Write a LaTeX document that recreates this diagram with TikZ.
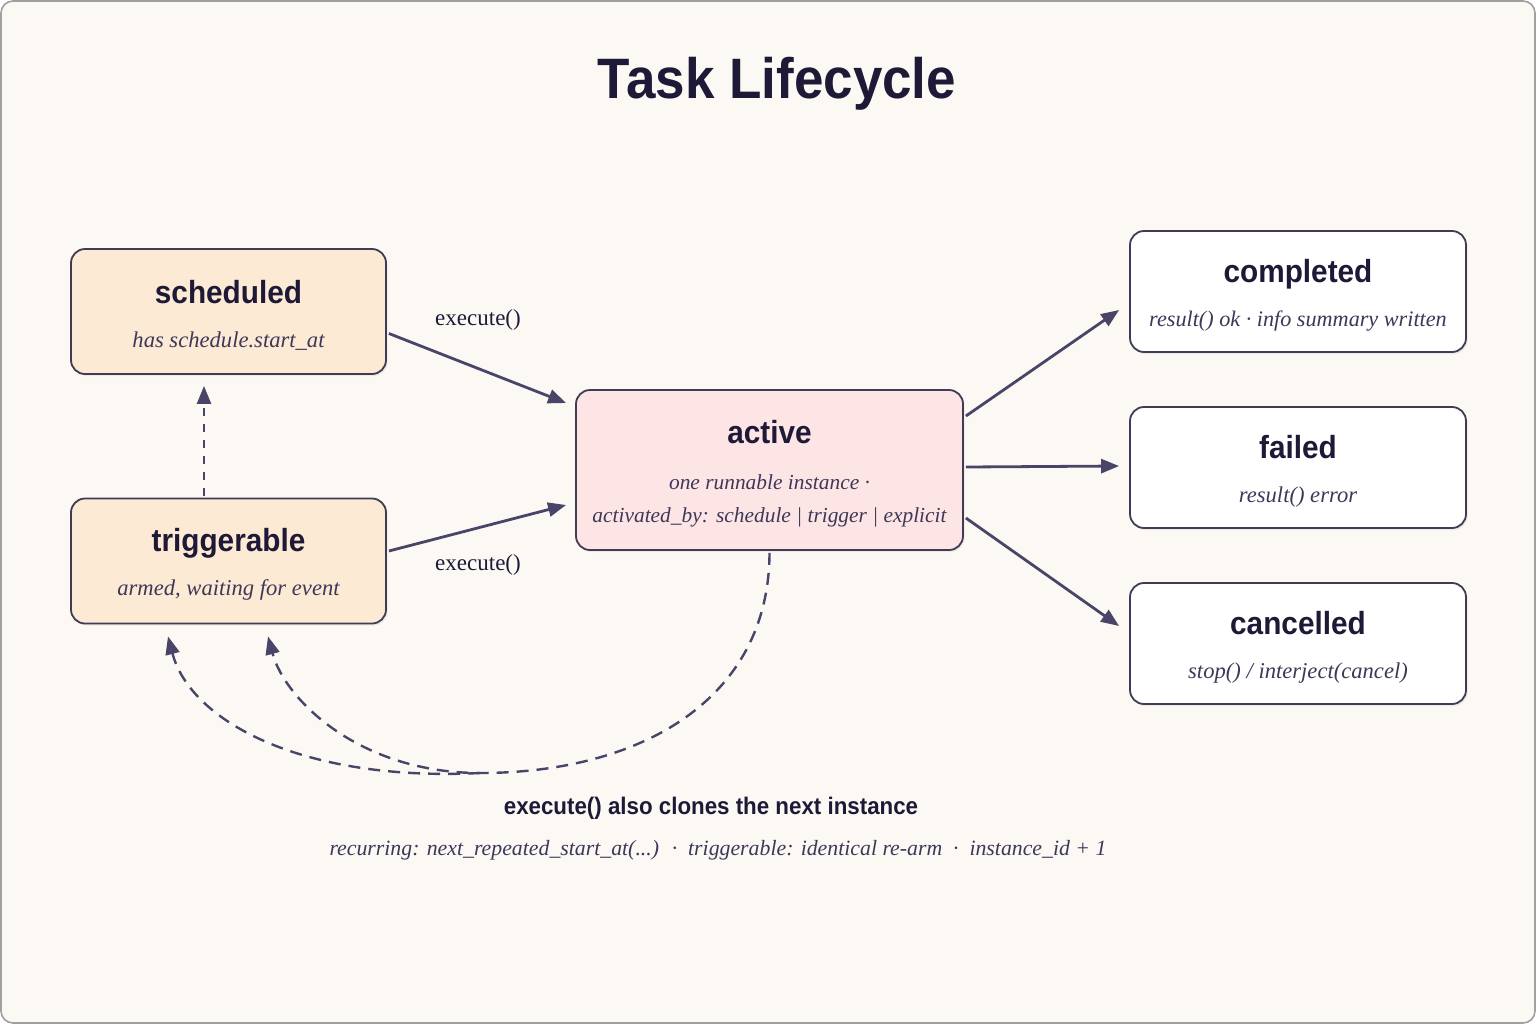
\documentclass[tikz,border=0pt]{standalone}
\usepackage{fontspec}
\setmainfont{Liberation Serif}
\newfontfamily\headfont[FakeStretch=0.93]{Liberation Sans}
\usetikzlibrary{arrows.meta,calc,shadows,positioning}

\definecolor{ink}{HTML}{1E1936}
\definecolor{subink}{HTML}{3E3858}
\definecolor{edge}{HTML}{4B4469}
\definecolor{paper}{HTML}{FCF9F4}
\definecolor{peach}{HTML}{FDEAD5}
\definecolor{blush}{HTML}{FDE5E5}
\definecolor{frame}{HTML}{A0A0A0}

\newcommand\stname[1]{{\headfont\bfseries\fontsize{16}{18}\selectfont\rule{0pt}{15pt}#1}}
\newcommand\stnote[2][11.3]{{\color{subink}\itshape\fontsize{#1}{13}\selectfont #2}}

\begin{document}
\begin{tikzpicture}[x=0.5pt, y=-0.5pt,
stbox/.style={draw=ink!85, line width=0.9pt, rounded corners=7pt, align=center,
  inner sep=0pt, text=ink, font=\fontsize{11}{13}\selectfont,
  drop shadow={opacity=0.12, shadow xshift=0.8pt, shadow yshift=-1pt}},
early/.style={stbox, fill=peach, minimum width=157.5pt, minimum height=62.5pt},
live/.style={stbox, fill=blush, minimum width=193.5pt, minimum height=80pt},
final/.style={stbox, fill=white, minimum width=168pt, minimum height=60.5pt},
go/.style={draw=edge, line width=1.4pt, -{Triangle[length=9pt,width=7pt]}},
back/.style={go, line width=1.2pt, dash pattern=on 6pt off 4pt},
lbl/.style={text=ink, font=\fontsize{11.5}{13}\selectfont}]

\useasboundingbox (0,0) rectangle (1536,1024);
\draw[frame, fill=paper, rounded corners=6pt, line width=0.8pt] (1,1) rectangle (1535,1023);

\node[text=ink, font=\headfont\bfseries\fontsize{28.5}{32}\selectfont] (title) at (777,84) {Task Lifecycle};

% states
\node[early] (sched) at (228.5,311.5) {\stname{scheduled}\\[9pt]\stnote{has schedule.start\_at}};
\node[early] (trig) at (228.5,561) {\stname{triggerable}\\[9pt]\stnote{armed, waiting for event}};
\node[live] (active) at (769.5,470) {\stname{active}\\[10pt]\stnote[10.7]{one runnable instance ·}\\[3.5pt]\stnote[10.7]{activated\_by: schedule | trigger | explicit}};
\node[final] (done) at (1298,291.5) {\stname{completed}\\[9pt]\stnote[11.1]{result() ok · info summary written}};
\node[final] (failed) at (1298,467.5) {\stname{failed}\\[9pt]\stnote{result() error}};
\node[final] (cancel) at (1298,643.5) {\stname{cancelled}\\[9pt]\stnote{stop() / interject(cancel)}};

% transitions
\draw[go] ($(sched.east)+(2,22)$) -- ($(active.west)+(-9,-67)$);
\draw[go] ($(trig.east)+(2,-10)$) -- ($(active.west)+(-9,35)$);
\node[lbl] (exec1) at (478,320) {execute()};
\node[lbl] (exec2) at (478,565) {execute()};
\draw[go] ($(active.east)+(2,-54)$) -- ($(done.west)+(-10,18.5)$);
\draw[go] ($(active.east)+(2,-3)$) -- ($(failed.west)+(-10,-1.5)$);
\draw[go] ($(active.east)+(2,48)$) -- ($(cancel.west)+(-10,-17.5)$);
\draw[back, dash pattern=on 4pt off 4pt] ($(trig.north)+(-24.5,-2)$) -- ($(sched.south)+(-24.5,11)$);

% clone loops
\coordinate (split) at (480,773);
\draw[back] ($(active.south)+(0,2)$) .. controls (769,700) and (640,773) .. (split)
  .. controls (360,773) and (285,700) .. ($(trig.south)+(39.5,12)$);
\draw[back] (split) .. controls (300,782) and (190,720) .. ($(trig.south)+(-60.5,12)$);

\node[text=ink, font=\headfont\bfseries\fontsize{12}{14}\selectfont] (clone) at (711,808) {execute() also clones the next instance};
\node[below=7pt of clone, xshift=3.5pt, inner sep=0pt] (cloneinfo)
  {\stnote[10.9]{recurring: next\_repeated\_start\_at(...) \ · \ triggerable: identical re-arm \ · \ instance\_id + 1}};
\end{tikzpicture}
\end{document}
